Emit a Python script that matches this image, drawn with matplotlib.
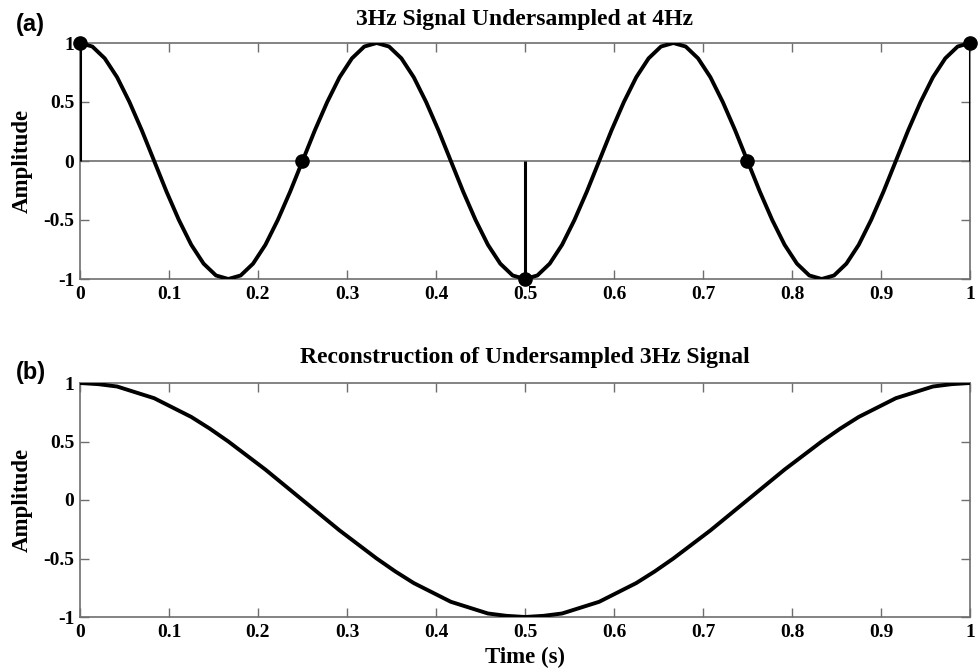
import numpy as np
import matplotlib
matplotlib.use("Agg")
import matplotlib.pyplot as plt

# ── Data ─────────────────────────────────────────────────────────────────────
# (a) 3 Hz signal, read every 1/72 s
sig_values = [1, 0.97, 0.87, 0.71, 0.5, 0.26, 0, -0.26, -0.5, -0.71, -0.87, -0.97,
              -1, -0.97, -0.87, -0.71, -0.5, -0.26, 0, 0.26, 0.5, 0.71, 0.87, 0.97,
              1, 0.97, 0.87, 0.71, 0.5, 0.26, 0, -0.26, -0.5, -0.71, -0.87, -0.97,
              -1, -0.97, -0.87, -0.71, -0.5, -0.26, 0, 0.26, 0.5, 0.71, 0.87, 0.97,
              1, 0.97, 0.87, 0.71, 0.5, 0.26, 0, -0.26, -0.5, -0.71, -0.87, -0.97,
              -1, -0.97, -0.87, -0.71, -0.5, -0.26, 0, 0.26, 0.5, 0.71, 0.87, 0.97,
              1]
sig_time = np.linspace(0, 1, len(sig_values))

# 4 Hz samples
samp_time = [0, 0.25, 0.5, 0.75, 1]
samp_values = [1, 0, -1, 0, 1]

# (b) reconstruction, read every 1/48 s
rec_values = [1, 0.99, 0.97, 0.92, 0.87, 0.79, 0.71, 0.61, 0.5, 0.38, 0.26, 0.13,
              0, -0.13, -0.26, -0.38, -0.5, -0.61, -0.71, -0.79, -0.87, -0.92, -0.97, -0.99,
              -1, -0.99, -0.97, -0.92, -0.87, -0.79, -0.71, -0.61, -0.5, -0.38, -0.26, -0.13,
              0, 0.13, 0.26, 0.38, 0.5, 0.61, 0.71, 0.79, 0.87, 0.92, 0.97, 0.99,
              1]
rec_time = np.linspace(0, 1, len(rec_values))

xticks = [0, 0.1, 0.2, 0.3, 0.4, 0.5, 0.6, 0.7, 0.8, 0.9, 1]
xtick_labels = ["0", "0.1", "0.2", "0.3", "0.4", "0.5", "0.6", "0.7", "0.8", "0.9", "1"]
yticks = [-1, -0.5, 0, 0.5, 1]
ytick_labels = ["-1", "-0.5", "0", "0.5", "1"]

SERIF = "Liberation Serif"
SANS = "Liberation Sans"
SPINE = "#6e6e6e"

fig = plt.figure(figsize=(9.79, 6.71), dpi=100)
ax_a = fig.add_axes([80 / 979, 1 - 279 / 671, 890 / 979, 236 / 671])
ax_b = fig.add_axes([80 / 979, 1 - 617 / 671, 890 / 979, 234 / 671])


def style(ax):
    ax.set_xlim(0, 1)
    ax.set_ylim(-1, 1)
    ax.set_xticks(xticks)
    ax.set_xticklabels(xtick_labels)
    ax.set_yticks(yticks)
    ax.set_yticklabels(ytick_labels)
    for s in ax.spines.values():
        s.set_color(SPINE)
        s.set_linewidth(1.2)
    ax.tick_params(direction="in", length=6.5, width=1, color=SPINE,
                   top=True, right=True, labelsize=14)
    ax.tick_params(axis="x", pad=5)
    ax.tick_params(axis="y", pad=4)
    for lab in ax.get_xticklabels() + ax.get_yticklabels():
        lab.set_fontfamily(SERIF)
        lab.set_fontweight("bold")
    ax.set_ylabel("Amplitude", fontsize=16.5, fontfamily=SERIF, fontweight="bold")
    ax.yaxis.set_label_coords(-0.053, 0.5)


# ── (a) ──────────────────────────────────────────────────────────────────────
style(ax_a)
ax_a.axhline(0, color=SPINE, lw=1.2, zorder=1)
ax_a.plot(sig_time, sig_values, color="black", lw=2.8, zorder=3)
ax_a.vlines(samp_time, 0, samp_values, color="black", lw=2.2, zorder=3)
ax_a.plot(samp_time, samp_values, "o", color="black", ms=9.5, zorder=4, clip_on=False)

# ── (b) ──────────────────────────────────────────────────────────────────────
style(ax_b)
ax_b.plot(rec_time, rec_values, color="black", lw=2.8, zorder=3)
ax_b.set_xlabel("Time (s)", fontsize=16.5, fontfamily=SERIF, fontweight="bold")
ax_b.xaxis.set_label_coords(0.5, -0.128)

fig.text(525 / 979, 1 - 20 / 671, "3Hz Signal Undersampled at 4Hz", ha="center", va="center",
         fontsize=17, fontfamily=SERIF, fontweight="bold")
fig.text(525 / 979, 1 - 358 / 671, "Reconstruction of Undersampled 3Hz Signal", ha="center",
         va="center", fontsize=17, fontfamily=SERIF, fontweight="bold")
fig.text(16 / 979, 1 - 25 / 671, "(a)", ha="left", va="center",
         fontsize=17, fontfamily=SANS, fontweight="bold")
fig.text(16 / 979, 1 - 372 / 671, "(b)", ha="left", va="center",
         fontsize=17, fontfamily=SANS, fontweight="bold")

fig.savefig("out.png", dpi=100)
